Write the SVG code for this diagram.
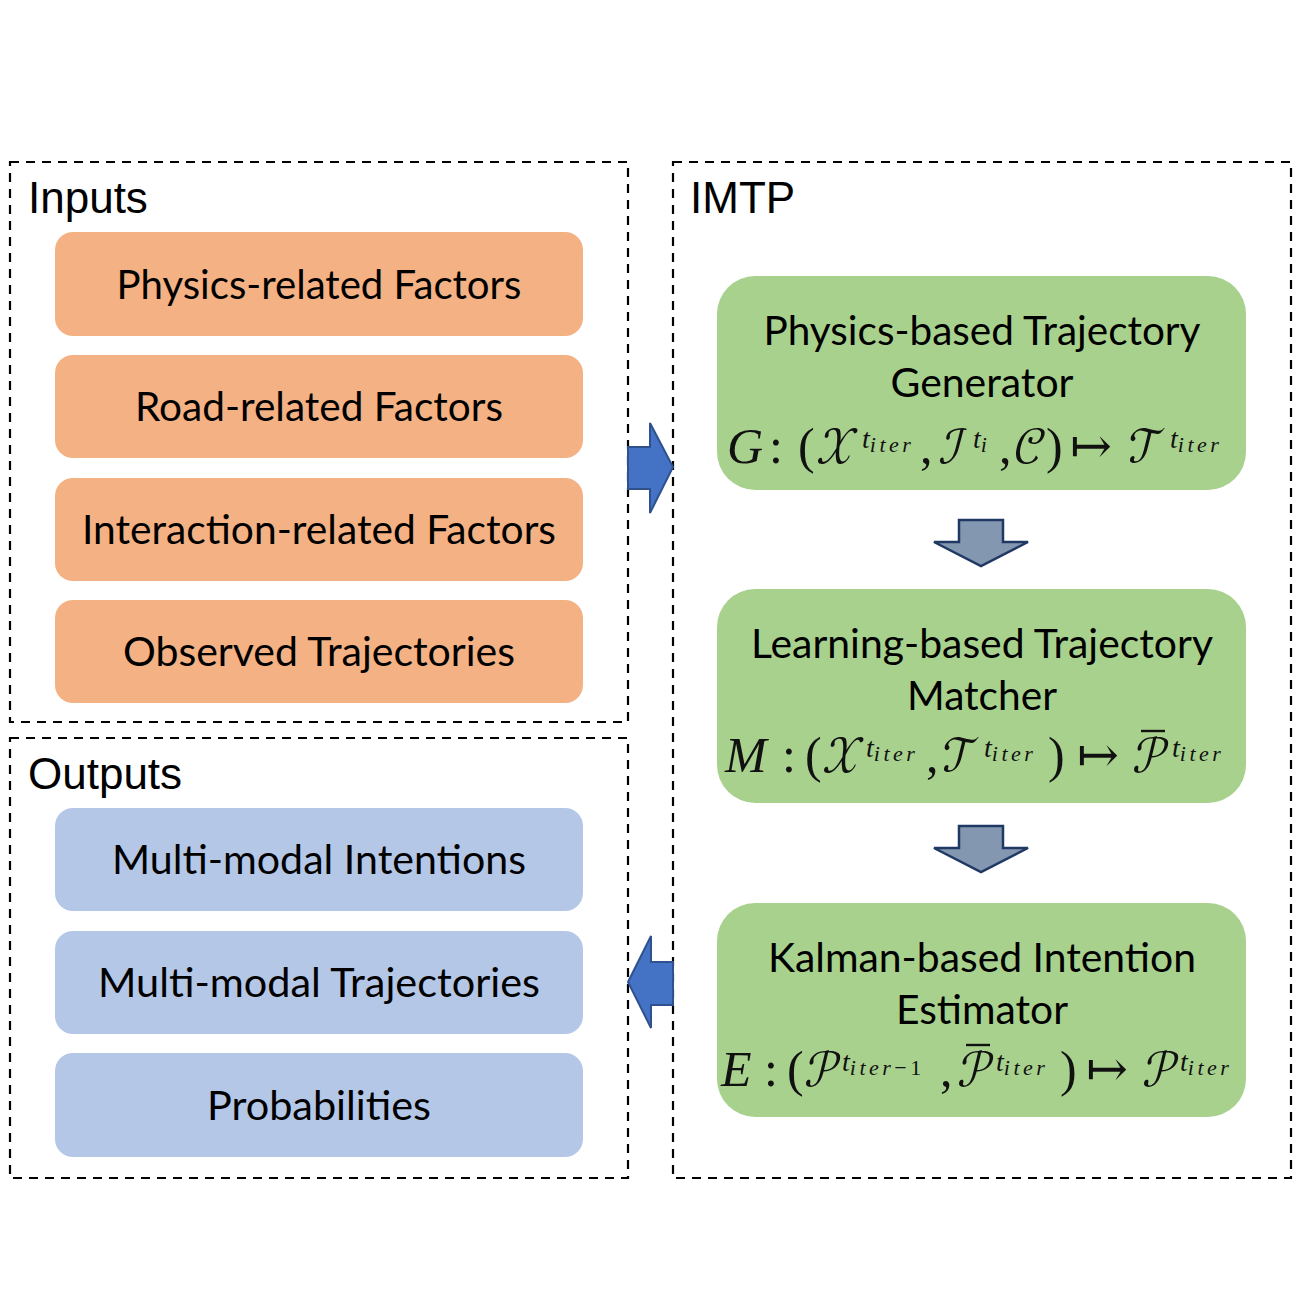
<svg xmlns="http://www.w3.org/2000/svg" width="1300" height="1300" viewBox="0 0 1300 1300">
<style>
.frame{fill:none;stroke:#000;stroke-width:2.2;stroke-dasharray:9 7}
.title{font-family:"Liberation Sans",Arial,sans-serif;font-size:44px;fill:#000}
.lbl{font-family:Lato,"Open Sans",sans-serif;font-size:40px;fill:#000;text-anchor:middle}
.orange{fill:#F4B183}
.blue{fill:#B4C7E7}
.green{fill:#A9D18E}
.math{font-family:"Liberation Serif","DejaVu Serif",serif;font-size:50px;fill:#111}
.scr{font-family:"Latin Modern Math","DejaVu Serif","Liberation Serif",serif}
.it{font-style:italic}
.st{font-size:28px;font-style:italic}
.sb{font-size:22px;font-style:italic;letter-spacing:3.5px}
.up{font-style:normal}
.bar{stroke:#111;stroke-width:2.4}
.bigarrow{fill:#4472C4;stroke:#2F528F;stroke-width:2}
.downarrow{fill:#8497B0;stroke:#203864;stroke-width:2.5}
</style>

<g id="inputs-frame">
<rect class="frame" x="10" y="162" width="618" height="560"/>
<text class="title" x="28" y="213">Inputs</text>
</g>
<g id="outputs-frame">
<rect class="frame" x="10" y="738" width="618" height="440"/>
<text class="title" x="28" y="789">Outputs</text>
</g>
<g id="imtp-frame">
<rect class="frame" x="673" y="162" width="618" height="1016"/>
<text class="title" x="690" y="213">IMTP</text>
</g>

<g id="in1"><rect class="orange" x="55" y="232" width="528" height="104" rx="18"/><text class="lbl" x="319" y="299" textLength="405" lengthAdjust="spacingAndGlyphs">Physics-related Factors</text></g>
<g id="in2"><rect class="orange" x="55" y="355" width="528" height="103" rx="18"/><text class="lbl" x="319" y="421" textLength="368" lengthAdjust="spacingAndGlyphs">Road-related Factors</text></g>
<g id="in3"><rect class="orange" x="55" y="478" width="528" height="103" rx="18"/><text class="lbl" x="319" y="544" textLength="474" lengthAdjust="spacingAndGlyphs">Interaction-related Factors</text></g>
<g id="in4"><rect class="orange" x="55" y="600" width="528" height="103" rx="18"/><text class="lbl" x="319" y="666" textLength="392" lengthAdjust="spacingAndGlyphs">Observed Trajectories</text></g>

<g id="out1"><rect class="blue" x="55" y="808" width="528" height="103" rx="18"/><text class="lbl" x="319" y="874" textLength="414" lengthAdjust="spacingAndGlyphs">Multi-modal Intentions</text></g>
<g id="out2"><rect class="blue" x="55" y="931" width="528" height="103" rx="18"/><text class="lbl" x="319" y="997" textLength="442" lengthAdjust="spacingAndGlyphs">Multi-modal Trajectories</text></g>
<g id="out3"><rect class="blue" x="55" y="1053" width="528" height="104" rx="18"/><text class="lbl" x="319" y="1120" textLength="224" lengthAdjust="spacingAndGlyphs">Probabilities</text></g>

<g id="generator">
<rect class="green" x="717" y="276" width="529" height="214" rx="38"/>
<text class="lbl" x="982" y="345" textLength="437" lengthAdjust="spacingAndGlyphs">Physics-based Trajectory</text>
<text class="lbl" x="982" y="397" textLength="183" lengthAdjust="spacingAndGlyphs">Generator</text>
<text class="math">
<tspan class="it" x="727" y="463">G</tspan><tspan x="769" y="463">:</tspan><tspan x="798" y="463">(</tspan><tspan class="scr" x="816" y="463">𝒳</tspan><tspan class="st" x="862" y="448">t</tspan><tspan class="sb" y="452">iter</tspan><tspan x="920" y="463">,</tspan><tspan class="scr" x="938" y="463">ℐ</tspan><tspan class="st" x="973" y="448">t</tspan><tspan class="sb" y="452">i</tspan><tspan x="999" y="463">,</tspan><tspan class="scr" x="1014" y="463">𝒞</tspan><tspan x="1046" y="463">)</tspan><tspan x="1070" y="463">↦</tspan><tspan class="scr" x="1128" y="463">𝒯</tspan><tspan class="st" x="1170" y="448">t</tspan><tspan class="sb" y="452">iter</tspan>
</text>
</g>

<g id="matcher">
<rect class="green" x="717" y="589" width="529" height="214" rx="38"/>
<text class="lbl" x="982" y="658" textLength="462" lengthAdjust="spacingAndGlyphs">Learning-based Trajectory</text>
<text class="lbl" x="982" y="710" textLength="150" lengthAdjust="spacingAndGlyphs">Matcher</text>
<text class="math">
<tspan class="it" x="725" y="772">M</tspan><tspan x="782" y="772">:</tspan><tspan x="805" y="772">(</tspan><tspan class="scr" x="822" y="772">𝒳</tspan><tspan class="st" x="866" y="757">t</tspan><tspan class="sb" y="761">iter</tspan><tspan x="926" y="772">,</tspan><tspan class="scr" x="942" y="772">𝒯</tspan><tspan class="st" x="984" y="757">t</tspan><tspan class="sb" y="761">iter</tspan><tspan x="1048" y="772">)</tspan><tspan x="1077" y="772">↦</tspan><tspan class="scr" x="1132" y="772">𝒫</tspan><tspan class="st" x="1172" y="757">t</tspan><tspan class="sb" y="761">iter</tspan>
</text>
<line class="bar" x1="1141" y1="731" x2="1165" y2="731"/>
</g>

<g id="estimator">
<rect class="green" x="717" y="903" width="529" height="214" rx="38"/>
<text class="lbl" x="982" y="972" textLength="428" lengthAdjust="spacingAndGlyphs">Kalman-based Intention</text>
<text class="lbl" x="982" y="1024" textLength="172" lengthAdjust="spacingAndGlyphs">Estimator</text>
<text class="math">
<tspan class="it" x="721" y="1086">E</tspan><tspan x="764" y="1086">:</tspan><tspan x="787" y="1086">(</tspan><tspan class="scr" x="804" y="1086">𝒫</tspan><tspan class="st" x="842" y="1071">t</tspan><tspan class="sb" y="1075">iter</tspan><tspan class="sb up" y="1075">−1</tspan><tspan x="940" y="1086">,</tspan><tspan class="scr" x="957" y="1086">𝒫</tspan><tspan class="st" x="996" y="1071">t</tspan><tspan class="sb" y="1075">iter</tspan><tspan x="1060" y="1086">)</tspan><tspan x="1086" y="1086">↦</tspan><tspan class="scr" x="1142" y="1086">𝒫</tspan><tspan class="st" x="1180" y="1071">t</tspan><tspan class="sb" y="1075">iter</tspan>
</text>
<line class="bar" x1="966" y1="1045" x2="990" y2="1045"/>
</g>

<g id="connectors">
<polygon class="bigarrow" points="628,447 650,447 650,423 673,467 650,513 650,489 628,489"/>
<polygon class="bigarrow" points="673,962 651,962 651,936 628,982 651,1028 651,1005 673,1005"/>
<polygon class="downarrow" points="959,520 1003,520 1003,542 1028,542 981,566 934,542 959,542"/>
<polygon class="downarrow" points="959,826 1003,826 1003,848 1028,848 981,872 934,848 959,848"/>
</g>
</svg>
